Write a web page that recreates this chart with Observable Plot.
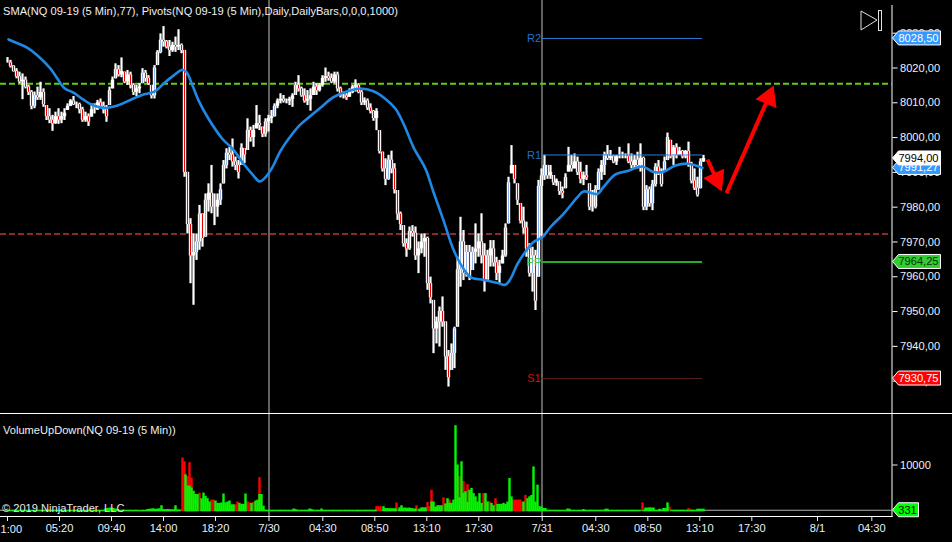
<!DOCTYPE html>
<html>
<head>
<meta charset="utf-8">
<script src="https://cdn.jsdelivr.net/npm/d3@7"></script>
<script src="https://cdn.jsdelivr.net/npm/@observablehq/plot@0.6"></script>
<style>
html,body{margin:0;padding:0;background:#000;overflow:hidden;width:952px;height:542px}
body{position:relative;font-family:"Liberation Sans",Arial,sans-serif;color:#f0f0f0;font-size:11.1px}
.abs{position:absolute}
.lbl{position:absolute;white-space:nowrap;line-height:13px}
svg.plot{display:block}
</style>
</head>
<body>
<div id="price" class="abs" style="left:0;top:0"></div>
<div id="volume" class="abs" style="left:0;top:414px"></div>
<div class="abs" style="left:0;top:413px;width:952px;height:1px;background:#fff"></div>
<div class="lbl" style="left:3px;top:5px">SMA(NQ 09-19 (5 Min),77), Pivots(NQ 09-19 (5 Min),Daily,DailyBars,0,0,0,1000)</div>
<div class="lbl" style="left:3px;top:424px">VolumeUpDown(NQ 09-19 (5 Min))</div>
<div class="lbl" style="left:2px;top:502px;color:#e8e8e8">© 2019 NinjaTrader, LLC</div>
<svg class="abs" style="left:855px;top:5px" width="32" height="30" fill="none" stroke="#e0e0e0" stroke-width="1">
  <polygon points="6,6 22,15 6,25"/><rect x="23.5" y="5.5" width="3" height="20"/>
</svg>
<script>
// One candle every three bars (bar number = candleStep * position)
const candleStep = 3;
const highs = [8023,8022.2,8020.7,8019.8,8018.8,8018.3,8017.4,8015,8013.5,8013.1,8014.5,8015.9,8014,8009.2,8008.3,8006.4,8007.3,8008.3,8007.3,8008.3,
8009.7,8010.9,8011.8,8010.2,8009.9,8008.7,8007.3,8006.8,8009.7,8009.7,8010.7,8011.1,8010.2,8009.2,8014.5,8017.4,8021.2,8020.7,8022.9,8018.8,
8019.3,8018.8,8015.5,8015,8015.5,8019.8,8019.3,8017.8,8015,8020.7,8025,8029.8,8031.9,8027.9,8027.9,8027.4,8028.9,8031,8026.9,8025,
7990,7976.7,7972.3,7972.3,7980.5,7978.1,7983.8,7986.7,7992,7983.8,7983.8,7986.7,7993.4,7996.8,7997.2,7999.6,7994.4,7993.4,7998.2,7996.8,
8005.4,8003,8003.5,8009.2,8006.4,8003,8005.4,8006.4,8007.8,8009.7,8011.1,
8012.6,8012.1,8011.1,8011.6,8012.6,8015.9,8017.8,8014.5,8014,8013.5,8014,8015.9,8015.5,8015.5,8017.8,8020,8018.8,8018.3,8018.8,8018.8,
8014.5,8013.1,8012.6,8014,8015,8016.6,8015.5,8013.5,8011.4,8011.1,8009.7,8007.8,8008.3,8002,7995.8,7993.9,7994.9,7996.1,7992.5,7984.8,
7978.6,7974.7,7970.9,7974.3,7974.7,7974.3,7970,7972.3,7972.3,7971.4,7959.9,7953.2,7948.4,7951.3,7954.2,7947,7938.8,7940.7,7945.5,7965.6,
7977.1,7973.3,7969,7969,7968.5,7975.2,7972.3,7978.1,7969.5,7967.6,7970.4,7970.4,7965.6,7964.7,7967.6,7975.2,7988.6,7997.7,7992,7986.7,
7981,7980,7975.7,7969.5,7968.5,7967.6,7987.7,7991,
7994.9,7992,7992,7989.1,7988.1,7987.2,7985.8,7989.6,7997.2,7994.9,7995.3,7994.4,7992.9,7990.1,7992,7986.7,7984.8,7986.2,7991,7993.4,
7995.8,7997.7,7996.3,7994.9,7994.9,7997.2,7995.8,7995.3,7998.2,7995.3,7994.9,7995.8,7998.2,7994.4,7986.2,7985.8,7987.7,7992.5,7993.4,7991,
7994.4,8001.3,7999.2,7997.7,7998.2,7997.2,7996.3,7996.3,7998.7,7992.9,7991,7988.6,7993.9,7994.9];
const lows = [8021.4,8020,8018.8,8016.9,8015.5,8010.9,8014,8012.1,8008,8008.3,8010.7,8010.7,8008.7,8004.9,8004,8001.8,8003.8,8003.8,8004,8004.9,
8007.8,8008.9,8009.2,8008.3,8006.8,8004.4,8004.4,8003.2,8005.9,8006.8,8007.8,8008.3,8006.8,8004.4,8009.2,8014,8016.9,8017.4,8017.2,8015.5,
8015,8014,8012.1,8011.8,8012.6,8015.5,8015.9,8015,8011.1,8011.1,8020.7,8024.1,8026,8025.5,8023.3,8024.5,8024.5,8025,8024.1,7988.6,
7972.3,7958,7951.8,7964.7,7967.6,7968.5,7971.4,7978.6,7978.1,7974.7,7977.1,7980.5,7986.7,7991,7993.4,7991.5,7990.5,7988.1,7992,7992.5,
7996.3,7998.7,7997.2,8002.5,8002,8000,8000.1,8001.6,8004,8005.9,8008.3,
8009.7,8009.9,8009.7,8009.2,8008.7,8012.1,8013.1,8011.6,8009.9,8009.2,8007.6,8012.1,8012.1,8013.1,8014.5,8015.9,8016.2,8015.5,8015.5,8013.1,
8011.4,8011.1,8010.7,8011.6,8012.6,8013.1,8012.6,8009.2,8009.2,8007.8,8006.8,8004.7,8002,7995.3,7990.1,7986.2,7987.7,7989.6,7983.8,7976.2,
7973.3,7968.5,7965.6,7967.6,7971.4,7964.7,7960.9,7966.6,7965.6,7956.1,7952.2,7937.9,7940.7,7939.8,7945.5,7933.1,7928.3,7933.1,7933.6,7945.5,
7957,7958.9,7959.9,7958.9,7961.8,7963.7,7965.6,7963.7,7955.6,7958.9,7962.8,7962.8,7958.9,7958,7963.7,7965.6,7975.2,7989.6,7986.7,7980.5,
7975.2,7972.3,7965.6,7959.9,7955.6,7950.3,7959.9,7971.4,
7987.7,7988,7988,7986.2,7986,7983.4,7982.4,7985.3,7990.1,7990.1,7991,7989.1,7986.7,7986.2,7987.7,7979,7978.6,7979.5,7984.8,7987.7,
7989.1,7993.4,7993.4,7992.5,7992,7993.9,7993.9,7993.9,7992.5,7991,7991,7991,7990.1,7979,7979,7980,7979,7985.8,7989.1,7985.8,
7990.1,7993.4,7993.9,7992,7993.9,7994.9,7993.9,7993.9,7991.5,7986.7,7984.8,7982.9,7985.3,7992.9];
const closes = [8021.5,8020.5,8019,8017.5,8016,8016.5,8014.5,8013,8009,8012,8011.5,8013,8009.5,8006,8005,8004,8006,8005,8006,8007,
8009,8010.5,8009.5,8009.5,8008,8005,8006,8004.5,8008,8008,8010,8009,8008,8006,8013.5,8016.5,8019.5,8018,8019,8016,
8018,8015,8013,8014,8014.5,8018.5,8017,8015.5,8012,8020,8024.5,8028,8027.5,8026,8025,8026.5,8026,8026.5,8025,7990,
7975,7966,7967,7970,7978,7971,7982,7984,7980,7980,7982,7985,7992,7995.5,7995,7993,7992,7990,7997,7995,
8002,8000,8002,8004,8003.5,8001,8004.5,8005.5,8006,8009,8010.5,
8011,8010.5,8010.5,8011,8012,8015,8014,8012,8010.5,8011,8012,8014.5,8013.5,8015,8017,8017.5,8017,8016,8018,8014,
8012,8012,8011.5,8013,8014.5,8015,8013,8010,8010.5,8008.5,8007.5,8005.5,8007.5,7996,7991,7988,7993.5,7991,7985,7978,
7975,7969.5,7968,7973,7972.5,7966,7968,7970,7971,7958,7954,7945,7947,7950,7947,7937,7931,7938,7945,7962,
7970,7961,7967,7960,7967,7968,7970,7966,7959,7966,7968,7964,7961,7963,7966,7974,7987,7992,7988,7982,
7976,7974,7968,7961,7966,7953,7986,7989,
7992,7989,7990,7987,7987.5,7984.5,7984,7988.5,7992,7991,7993,7990,7988,7989,7988.5,7980,7980,7985,7990,7992,
7995,7994,7994.5,7993,7994.5,7994.5,7994.5,7994.5,7993,7992,7993.5,7992,7994,7980,7985,7981,7986.5,7991.5,7990,7986.5,
7993,8000,7994.5,7997,7995,7996,7994.5,7996,7992,7987.5,7985.5,7983.5,7993,7994];

// SMA(77): bar number and price
const smaBars = [1,10,20,30,43,50,57,66,76,86,98,110,125,136,147,156,166,175,179,185,191,201,215,225,236,246,252,258,265,273,283,293,303,313,326,340,353,366,378,388,396,406,418,426,436,445,453,463,476,490,498,503,510,520,526,535,543,556,570,576,590,596,608,621,635,646,656,668,681,695];
const smaValues = [8028.2,8027.1,8025.8,8023.6,8019.8,8016.9,8014.2,8012.9,8010.9,8009.2,8008.5,8009.2,8011.1,8012.4,8013.2,8015.5,8017.8,8019.5,8018.8,8015,8010.7,8005.4,7999.6,7996.8,7992.5,7989.1,7987.4,7988.6,7991.5,7996.2,8000.4,8003.8,8006.2,8008.6,8011.6,8013.3,8014.1,8013.3,8011.1,8008.3,8004,7997.2,7991,7984.3,7976.2,7968.5,7963.7,7959.9,7959.1,7958.2,7957.7,7959.4,7963.7,7968,7970,7971.4,7974.3,7978.1,7982.9,7984.5,7983.8,7985.8,7989.4,7990.5,7991.7,7990.1,7990.2,7992,7992.5,7991.3];

// Pivots
const pivotNames = ["R2","R1","PP","S1"];
const pivotLevels = [8028.5,7995,7964.25,7930.75];
const pivotColors = ["#2a7fe0","#2a7fe0","#22b022","#5a2020"];
const pivotLabelColors = ["#1f6fd0","#1f6fd0","#35c435","#d01010"];
const pivotWidths = [1,1,2,1];
const pivotFrom = 534.5, pivotTo = 695;
const greenLevel = 8015.5, redLevel = 7972.3;
const priceTicks = [8030,8020,8010,8000,7990,7980,7970,7960,7950,7940,7930];
const dayLines = [261.5,534.5];

// Drawn red arrows
const arrowFromBar = [700,719], arrowFromPrice = [7993.7,7984];
const arrowToBar = [709,761], arrowToPrice = [7988,8011.5];
const arrowHeadAngle = [156,23];

// Price tags
const priceTags = [
 {v:8028.5,t:"8028,50",f:"#3399ff",c:"#fff"},
 {v:7991.27,t:"7991,27",f:"#3399ff",c:"#fff"},
 {v:7994,t:"7994,00",f:"#fff",c:"#000"},
 {v:7964.25,t:"7964,25",f:"#33cc33",c:"#063306"},
 {v:7930.75,t:"7930,75",f:"#ff0000",c:"#fff"}];

// Volume: one green column every two bars, red columns listed apart
const volStep = 2;
const greenVols = [
250,200,250,300,200,250,200,300,250,200,250,300,200,250,250,200,300,250,200,250,300,250,200,250,200,300,250,200,250,300,200,250,250,300,200,250,300,200,250,200,250,300,250,200,250,300,200,250,300,
600,700,800,800,700,600,500,
250,300,200,250,250,300,200,250,300,250,200,250,300,250,
500,550,600,650,500,600,650,
1300,500,450,500,450,400,450,1300,400,300,
0,0,7900,5500,5500,5100,4400,3700,3700,0,2800,4000,3300,2800,2100,0,0,2300,1800,1800,1900,3800,1900,2100,2300,1500,1500,0,0,1800,1600,1600,3800,0,0,1800,0,2300,2500,3700,3700,1200,350,300,
300,250,300,200,250,300,300,250,300,250,300,250,
600,500,300,250,300,250,300,300,600,500,300,250,300,250,600,
250,300,200,250,250,300,200,250,300,250,200,300,250,300,200,250,250,300,250,200,250,300,250,250,300,200,
350,0,0,0,1100,700,700,650,650,650,650,0,850,1300,800,800,750,800,700,600,600,0,600,850,850,850,0,0,2100,2100,1000,1300,1300,1300,0,1600,2800,1800,1800,2500,
18400,10000,3000,10700,4000,4300,2000,4600,5000,3900,3200,2100,3900,1800,0,3900,2100,0,1800,1300,0,1600,1600,1600,1800,1600,2100,7100,3200,0,0,0,0,0,2100,0,2800,3200,3500,9600,2100,5700,1100,1000,700,700,
250,300,250,200,300,250,300,250,200,250,600,550,250,300,250,200,300,250,500,
300,250,300,300,250,300,250,300,300,250,550,550,
250,300,200,250,300,250,200,250,300,250,200,300,250,300,200,250,0,300,800,800,850,800,800,300,300,550,400,700,700,1900,0,
300,250,300,300,250,300,300,250,300,250,300,300,250,550,550,550,550];
const redBars = [126,133,136,159,163,167,173,175,177,179,180,182,184,192,204,206,228,230,240,242,246,252,331,351,369,371,373,389,409,420,422,424,428,436,438,442,446,452,456,460,476,482,488,505,507,509,511,513,515,518,635,662,681,683];
const redVols = [300,300,250,300,400,300,500,11500,10700,7500,7500,10500,7200,4000,2500,2500,1500,2100,2100,1900,2000,7300,300,300,1100,1100,1100,1900,1300,2000,1100,4600,1000,3000,1800,2500,600,7500,6500,5800,3900,2100,2800,2500,2500,2500,2500,2500,2000,3500,1900,1000,700,500];
const lastVolume = 331;
const volumeTicks = [10000];

// Time axis
const timeTicks = [0,52,104,156,208,261.5,315.3,367.3,419.3,471.3,534.7,588.3,640.3,692.3,744.3,810,864.3];
const timeLabels = ["1:00","05:20","09:40","14:00","18:20","7/30","04:30","08:50","13:10","17:30","7/31","04:30","08:50","13:10","17:30","8/1","04:30"];

// Tables for the marks
const candles = highs.map((h,i)=>{
  const prev = i ? closes[i-1] : closes[0];
  const open = Math.min(h, Math.max(lows[i], prev));
  return {bar:i*candleStep, high:h, low:lows[i], open, close:closes[i], down:closes[i]<open};
});
const sma = smaBars.map((b,i)=>({bar:b,price:smaValues[i]}));
const pivots = pivotNames.map((n,i)=>({name:n,level:pivotLevels[i],color:pivotColors[i],label:pivotLabelColors[i],w:pivotWidths[i]}));
const arrows = arrowFromBar.map((b,i)=>({x1:b,y1:arrowFromPrice[i],x2:arrowToBar[i],y2:arrowToPrice[i],a:arrowHeadAngle[i]}));
const greens = greenVols.map((v,i)=>({bar:i*volStep,v})).filter(d=>d.v>0);
const reds = redBars.map((b,i)=>({bar:b,v:redVols[i]}));

const W = 952, MR = 60.5;
const xDomain = [-7, 884.5];
const font = {fontFamily:'"Liberation Sans",Arial,sans-serif',fontSize:"11.1px",background:"#000",color:"#e8f0ff",overflow:"hidden"};

function tagMark(tags, tagWidth){
  return (index, scales) => {
    const g = d3.create("svg:g");
    const x0 = 892.5;
    for (const t of tags){
      const y = scales.y(t.v);
      g.append("path")
        .attr("d",`M${x0},${y}L${x0+6},${y-7}H${x0+tagWidth}V${y+7}H${x0+6}Z`)
        .attr("fill",t.f).attr("stroke","#fff").attr("stroke-width",1);
      g.append("text").attr("x",x0+4+(tagWidth-4)/2).attr("y",y+4)
        .attr("text-anchor","middle").attr("fill",t.c)
        .attr("font-size",11.1).text(t.t);
    }
    return g.node();
  };
}

const pricePlot = Plot.plot({
  width:W, height:414, marginLeft:0, marginRight:MR, marginTop:5, marginBottom:0,
  style:font,
  x:{domain:xDomain, range:[0,W-MR], axis:null},
  y:{domain:[7920.7,8039.4], range:[413,0], axis:null},
  marks:[
    Plot.ruleX(dayLines,{stroke:"#c4c4c4",strokeWidth:1,y1:7920.7,y2:8039.4}),
    Plot.ruleY([greenLevel],{stroke:"#66cc11",strokeWidth:2,strokeDasharray:"6,3"}),
    Plot.ruleY([redLevel],{stroke:"#8a2a2a",strokeWidth:2,strokeDasharray:"6,3"}),
    Plot.ruleX(candles,{x:"bar",y1:"low",y2:"high",stroke:"#fff",strokeWidth:2.2}),
    Plot.ruleX(candles,{x:"bar",y1:"open",y2:"close",stroke:"#fff",strokeWidth:3.4}),
    Plot.ruleX(candles.filter(d=>d.down),{x:"bar",y1:"open",y2:"close",stroke:"#ee0000",strokeWidth:1.1}),
    Plot.ruleX(candles.filter(d=>!d.down && d.close-d.open>2.5),{x:"bar",y1:"open",y2:"close",stroke:"#8fb6ee",strokeWidth:1}),
    Plot.ruleY(pivots,{y:"level",x1:pivotFrom,x2:pivotTo,stroke:"color",strokeWidth:"w"}),
    Plot.text(pivots,{x:pivotFrom-8,y:"level",text:"name",fill:"label",fontSize:11.1}),
    Plot.line(sma,{x:"bar",y:"price",stroke:"#1e88e5",strokeWidth:2.6,curve:"catmull-rom"}),
    Plot.link(arrows,{x1:"x1",y1:"y1",x2:"x2",y2:"y2",stroke:"#ff0000",strokeWidth:4}),
    Plot.dot(arrows,{x:"x2",y:"y2",symbol:"triangle",r:8.5,fill:"#ff0000",stroke:"none",rotate:"a"}),
    Plot.axisY({anchor:"right",ticks:priceTicks,tickSize:5,tickPadding:3,stroke:"#fff",color:"#e8f0ff",fill:"#e8f0ff",
      tickFormat:d=>d.toFixed(2).replace(".",","),label:null,fontSize:11.1}),
    Plot.frame({anchor:"right",stroke:"#fff"}),
    tagMark(priceTags,48)
  ]
});
document.getElementById("price").append(pricePlot);

const volumePlot = Plot.plot({
  width:W, height:128, marginLeft:0, marginRight:MR, marginTop:0, marginBottom:26,
  style:font,
  x:{domain:xDomain, range:[0,W-MR], axis:null},
  y:{domain:[0,20000], range:[97.3,3.7], axis:null},
  marks:[
    Plot.ruleX(dayLines,{stroke:"#c4c4c4",strokeWidth:1}),
    Plot.ruleY([lastVolume],{stroke:"#b0b0b0",strokeWidth:1}),
    Plot.ruleX(reds,{x:"bar",y1:0,y2:"v",stroke:"#ff0000",strokeWidth:2.4}),
    Plot.ruleX(greens,{x:"bar",y1:0,y2:"v",stroke:"#00f800",strokeWidth:2.4}),
    Plot.axisY({anchor:"right",ticks:volumeTicks,tickSize:5,tickPadding:3,color:"#e8f0ff",fill:"#e8f0ff",tickFormat:d=>String(d),label:null,fontSize:11.1}),
    Plot.axisX({anchor:"bottom",ticks:timeTicks,tickSize:5,tickPadding:3,color:"#e8f0ff",fill:"#e8f0ff",label:null,fontSize:11.1,
      tickFormat:d=>d===0?"":timeLabels[timeTicks.indexOf(d)]}),
    Plot.text([timeLabels[0]],{frameAnchor:"bottom-left",dy:16,textAnchor:"start",fill:"#e8f0ff",fontSize:11.1}),
    Plot.frame({anchor:"bottom",stroke:"#fff"}),
    Plot.frame({anchor:"right",stroke:"#fff"}),
    tagMark([{v:lastVolume,t:String(lastVolume),f:"#00ff00",c:"#000"}],26)
  ]
});
document.getElementById("volume").append(volumePlot);
</script>
</body>
</html>
